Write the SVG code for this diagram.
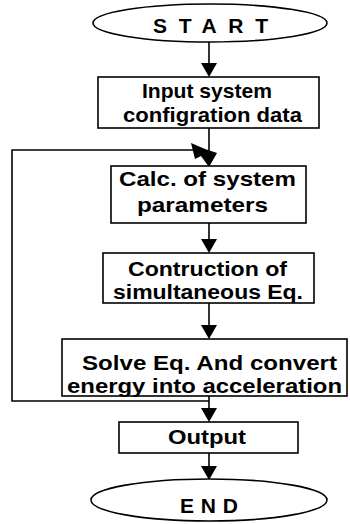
<svg xmlns="http://www.w3.org/2000/svg" width="350" height="524" viewBox="0 0 350 524">
<style>
  .shape { fill: #ffffff; stroke: #000000; stroke-width: 1.6; }
  .line { fill: none; stroke: #000000; stroke-width: 1.6; }
  .head { fill: #000000; stroke: none; }
  .t { font-family: "Liberation Sans", Arial, sans-serif; font-weight: bold; font-size: 21px; fill: #000000; }
  .s { font-size: 20px; }
</style>
<rect x="0" y="0" width="350" height="524" fill="#ffffff"/>
<g id="connectors">
  <line class="line" x1="209" y1="42" x2="209" y2="64"/>
  <polygon class="head" points="201,63 217,63 209,77"/>
  <line class="line" x1="209" y1="128" x2="209" y2="154"/>
  <polyline class="line" points="209,396 209,409"/>
  <polyline class="line" points="209,401 12,401 12,150 194,150"/>
  <polygon class="head" points="191,143 205,149 217,153 209,167 201,156 195,159"/>
  <line class="line" x1="209" y1="223" x2="209" y2="240"/>
  <polygon class="head" points="201,239 217,239 209,253"/>
  <line class="line" x1="209" y1="303" x2="209" y2="326"/>
  <polygon class="head" points="201,325 217,325 209,339"/>
  <polygon class="head" points="201,408 217,408 209,422"/>
  <line class="line" x1="209" y1="453" x2="209" y2="467"/>
  <polygon class="head" points="201,466 217,466 209,480"/>
</g>
<g id="start">
  <ellipse class="shape" cx="210" cy="23" rx="117" ry="19"/>
  <text class="t" x="153" y="33" textLength="115" lengthAdjust="spacing">START</text>
</g>
<g id="input">
  <rect class="shape" x="98" y="77" width="221" height="51"/>
  <text class="t" x="142" y="98" textLength="130" lengthAdjust="spacingAndGlyphs">Input system</text>
  <text class="t" x="123" y="122" textLength="179" lengthAdjust="spacingAndGlyphs">configration data</text>
</g>
<g id="calc">
  <rect class="shape" x="111" y="166" width="195" height="57"/>
  <text class="t" x="119" y="186" textLength="177" lengthAdjust="spacingAndGlyphs">Calc. of system</text>
  <text class="t" x="137" y="212" textLength="131" lengthAdjust="spacingAndGlyphs">parameters</text>
</g>
<g id="construction">
  <rect class="shape" x="103" y="253" width="211" height="50"/>
  <text class="t s" x="128" y="276" textLength="159" lengthAdjust="spacingAndGlyphs">Contruction of</text>
  <text class="t s" x="113" y="299" textLength="190" lengthAdjust="spacingAndGlyphs">simultaneous Eq.</text>
</g>
<g id="solve">
  <rect class="shape" x="62" y="339" width="285" height="57"/>
  <text class="t" x="82" y="370" textLength="255" lengthAdjust="spacingAndGlyphs">Solve Eq. And convert</text>
  <text class="t" x="67" y="393" textLength="275" lengthAdjust="spacingAndGlyphs">energy into acceleration</text>
</g>
<g id="output">
  <rect class="shape" x="119" y="422" width="179" height="31"/>
  <text class="t" x="168" y="444" textLength="78" lengthAdjust="spacingAndGlyphs">Output</text>
</g>
<g id="end">
  <ellipse class="shape" cx="209" cy="500" rx="118" ry="21"/>
  <text class="t" x="180" y="513" textLength="58" lengthAdjust="spacing">END</text>
</g>
</svg>
